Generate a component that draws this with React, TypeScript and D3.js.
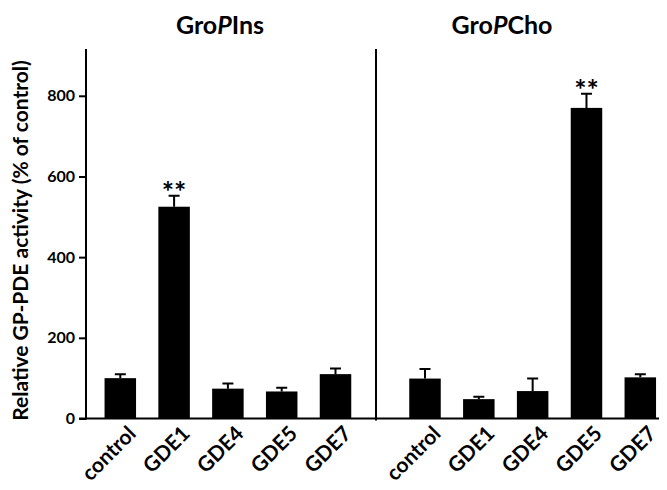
import React, { useEffect, useRef } from 'react';
import * as d3 from 'd3';

const categories = ['control', 'GDE1', 'GDE4', 'GDE5', 'GDE7'];
const insValues = [100, 525, 74, 67, 110];
const insErrors = [10, 27, 13, 9, 14];
const insStars = ['', '**', '', '', ''];
const choValues = [99, 48, 68, 770, 102];
const choErrors = [24, 6, 31, 35, 8];
const choStars = ['', '', '', '**', ''];
const yTicks = [0, 200, 400, 600, 800];

const FONT = 'Lato, "Open Sans", sans-serif';

const App = () => {
  const svgRef = useRef<SVGSVGElement>(null);

  useEffect(() => {
    const width = 667;
    const height = 490;
    const svg = d3.select(svgRef.current);
    svg.selectAll('*').remove();
    svg.attr('width', width).attr('height', height).attr('viewBox', `0 0 ${width} ${height}`);

    const y = d3.scaleLinear().domain([0, 916]).range([418.5, 49]);
    const barW = 31.5;

    const panels = [
      { title: 'Ins', values: insValues, errors: insErrors, stars: insStars, range: [120.3, 335.5], titleX: 220 },
      { title: 'Cho', values: choValues, errors: choErrors, stars: choStars, range: [425, 640.3], titleX: 502 },
    ];

    const g = svg.append('g').style('font-family', FONT);

    panels.forEach(p => {
      const x = d3.scalePoint<string>().domain(categories).range(p.range as [number, number]);
      const data = categories.map((c, i) => ({ c, v: p.values[i], e: p.errors[i], s: p.stars[i] }));

      // error bars (drawn behind bars)
      g.selectAll(null)
        .data(data)
        .enter()
        .append('path')
        .attr('d', d => {
          const cx = x(d.c)!;
          const top = y(d.v + d.e);
          return `M${cx},${y(d.v)}V${top}M${cx - 5.5},${top}H${cx + 5.5}`;
        })
        .attr('stroke', '#000')
        .attr('stroke-width', 2)
        .attr('fill', 'none');

      g.selectAll(null)
        .data(data)
        .enter()
        .append('rect')
        .attr('x', d => x(d.c)! - barW / 2)
        .attr('y', d => y(d.v))
        .attr('width', barW)
        .attr('height', d => y(0) - y(d.v))
        .attr('fill', '#000');

      g.selectAll(null)
        .data(data.filter(d => d.s))
        .enter()
        .append('text')
        .attr('x', d => x(d.c)!)
        .attr('y', d => y(d.v + d.e) + 6)
        .attr('text-anchor', 'middle')
        .attr('font-size', 29)
        .attr('font-weight', 'bold')
        .text(d => d.s);

      g.selectAll(null)
        .data(data)
        .enter()
        .append('text')
        .attr('transform', d => `translate(${x(d.c)! + 17},${435}) rotate(-45)`)
        .attr('text-anchor', 'end')
        .attr('font-size', 21)
        .attr('font-weight', 'bold')
        .text(d => d.c);

      const t = g.append('text')
        .attr('x', p.titleX)
        .attr('y', 34)
        .attr('text-anchor', 'middle')
        .attr('font-size', 25)
        .attr('font-weight', 'bold');
      t.append('tspan').text('Gro');
      t.append('tspan').attr('font-style', 'italic').text('P');
      t.append('tspan').text(p.title);
    });

    // y axis
    const yAxis = g.append('g')
      .attr('transform', 'translate(86,0)')
      .call(d3.axisLeft(y).tickValues(yTicks).tickSize(7).tickPadding(4).tickFormat(d3.format('d')));
    yAxis.select('.domain').remove();
    yAxis.selectAll('line').attr('stroke-width', 2);
    yAxis.selectAll('text')
      .style('font-family', FONT)
      .attr('font-size', 16)
      .attr('font-weight', 'bold');

    g.append('line')
      .attr('x1', 86).attr('x2', 86)
      .attr('y1', y(916)).attr('y2', y(0) + 1)
      .attr('stroke', '#000').attr('stroke-width', 2);

    // panel separator
    g.append('line')
      .attr('x1', 376).attr('x2', 376)
      .attr('y1', y(916)).attr('y2', y(0) + 2)
      .attr('stroke', '#000').attr('stroke-width', 2);

    // baseline
    g.append('line')
      .attr('x1', 79).attr('x2', 667)
      .attr('y1', y(0)).attr('y2', y(0))
      .attr('stroke', '#000').attr('stroke-width', 2);

    g.append('text')
      .attr('transform', `translate(28,${y(0) - 178}) rotate(-90)`)
      .attr('text-anchor', 'middle')
      .attr('font-size', 21)
      .attr('font-weight', 'bold')
      .text('Relative GP-PDE activity (% of control)');
  }, []);

  return (
    <div style={{ margin: -8 }}>
      <svg ref={svgRef} style={{ display: 'block', background: '#fff' }} />
    </div>
  );
};

export default App;
